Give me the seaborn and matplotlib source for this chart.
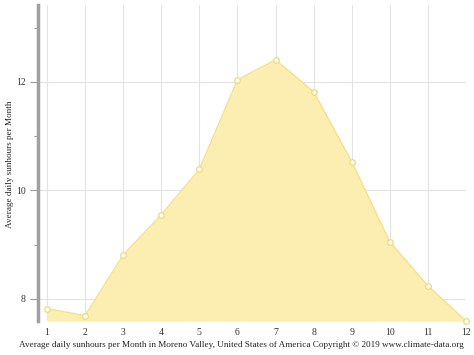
import matplotlib
matplotlib.use("Agg")
import matplotlib.pyplot as plt
import seaborn as sns
import pandas as pd

months = [1, 2, 3, 4, 5, 6, 7, 8, 9, 10, 11, 12]
sunhours = [7.82, 7.69, 8.81, 9.55, 10.39, 12.04, 12.41, 11.82, 10.53, 9.05, 8.24, 7.59]
y_ticks = [8, 10, 12]
df = pd.DataFrame({"month": months, "sun": sunhours})

sns.set_style("white")
plt.rcParams["font.family"] = ["Liberation Serif", "DejaVu Serif"]

fig = plt.figure(figsize=(4.74, 3.55), dpi=100)
ax = fig.add_axes([38/474, 34/355, (466-38)/474, (321-5)/355])

ymin, ymax = 7.59, 13.42
ax.fill_between(df["month"], df["sun"], ymin, color="#fbeeb0", alpha=1, lw=0, zorder=1)
sns.lineplot(data=df, x="month", y="sun", ax=ax, color="#f7e08a", lw=1.0,
             marker="o", markersize=4, markerfacecolor="white",
             markeredgecolor="#f0d878", markeredgewidth=0.9, zorder=3, clip_on=False)

ax.set_xlim(0.764, 12)
ax.set_ylim(ymin, ymax)
ax.set_xticks(months)
ax.set_xticklabels([str(m) for m in months], fontsize=7, color="#333333")
ax.set_yticks(y_ticks)
ax.set_yticks([9, 11, 13], minor=True)
ax.set_yticklabels([str(t) for t in y_ticks], fontsize=7, color="#333333")
ax.grid(True, which="major", color="#e3e3e3", lw=0.8, zorder=0)
ax.set_axisbelow(True)

for s in ["top", "right", "bottom"]:
    ax.spines[s].set_visible(False)
ax.spines["left"].set_color("#a0a0a0")
ax.spines["left"].set_linewidth(2.5)

ax.tick_params(axis="y", which="major", length=6, width=0.8, color="#999999", pad=3, left=True)
ax.tick_params(axis="y", which="minor", length=3, width=0.8, color="#999999", left=True)
ax.tick_params(axis="x", length=0, pad=5)

ax.set_xlabel("Average daily sunhours per Month in Moreno Valley, United States of America Copyright © 2019 www.climate-data.org",
              fontsize=6.6, color="#222222")
ax.set_ylabel("Average daily sunhours per Month", fontsize=6.6, color="#222222")
ax.xaxis.set_label_coords((241 - 38) / 428, -(345 - 321) / 316, transform=ax.transAxes)
ax.xaxis.label.set_va("center")
ax.yaxis.set_label_coords(-(38 - 10) / 428, (321 - 164) / 316, transform=ax.transAxes)
ax.yaxis.label.set_va("center")

fig.savefig("out.png", dpi=100)
